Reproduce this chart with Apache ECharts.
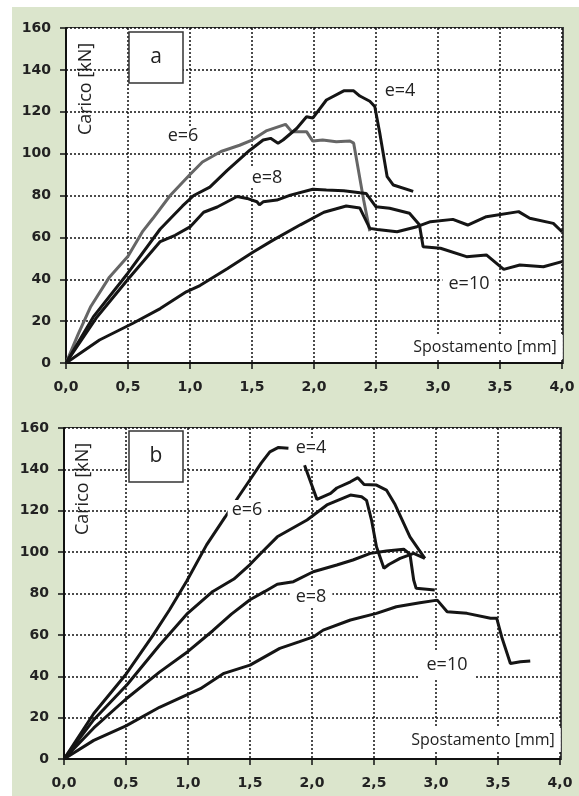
<!DOCTYPE html>
<html>
<head>
<meta charset="utf-8">
<script src="https://cdn.jsdelivr.net/npm/echarts@6/dist/echarts.min.js"></script>
<style>
  html, body { margin: 0; padding: 0; background: #fff; }
  #wrap {
    position: absolute;
    left: 12px;
    top: 7px;
    width: 567px;
    height: 789px;
    background: #dbe5cc;
  }
  .plot {
    position: absolute;
    background: #fff;
    border-top: 1.5px solid #333;
    border-right: 2px solid #444;
  }
  #chart { position: absolute; left: 0; top: 0; width: 567px; height: 789px; }
</style>
</head>
<body>
<div id="wrap">
  <div class="plot" style="left:54px;top:20px;width:496px;height:336px"></div>
  <div class="plot" style="left:52px;top:420px;width:496px;height:332px"></div>
  <div id="chart"></div>
</div>
<script>
// tick values for both panels
const xTicks = [0, 0.5, 1, 1.5, 2, 2.5, 3, 3.5, 4]
const yTicks = [0, 20, 40, 60, 80, 100, 120, 140, 160]

// panel a: [spostamento mm, carico kN]
const aE4 = [[0,0],[0.22,22],[0.5,43],[0.76,64],[0.94,75],[1.03,80],[1.16,84],[1.3,92],[1.48,101.5],[1.59,106.5],[1.65,107.3],[1.71,105],[1.75,106.5],[1.86,112],[1.94,117.6],[1.99,117],[2.1,125.6],[2.24,130],[2.32,130],[2.37,127.5],[2.45,125],[2.49,122.5],[2.53,110],[2.59,89],[2.64,85],[2.8,82]]
const aE6 = [[0,0],[0.1,14],[0.2,27],[0.35,41],[0.5,51],[0.62,63],[0.7,69],[0.84,80],[1.0,90],[1.1,96],[1.25,101],[1.4,104],[1.5,106.5],[1.62,111],[1.77,114],[1.82,110.5],[1.94,110.5],[1.99,106],[2.07,106.5],[2.18,105.7],[2.29,106],[2.32,105],[2.4,78],[2.45,63]]
const aE8 = [[0,0],[0.25,22],[0.5,40],[0.76,58],[0.88,61],[1.0,65],[1.11,72],[1.22,74.5],[1.38,79.5],[1.46,78.6],[1.54,77],[1.56,75.5],[1.59,77],[1.7,77.8],[1.81,80.2],[1.99,83],[2.1,82.6],[2.24,82.3],[2.37,81.3],[2.42,81],[2.5,74.6],[2.61,73.9],[2.77,71.5],[2.85,66],[2.88,55.5],[3.02,54.8],[3.23,50.8],[3.39,51.6],[3.53,44.7],[3.66,46.8],[3.85,46],[4.0,48.4]]
const aE10 = [[0,0],[0.27,11],[0.54,19],[0.76,26],[0.97,34],[1.08,37],[1.3,45],[1.51,53],[1.67,58.7],[1.89,66],[2.08,72],[2.26,75],[2.37,74],[2.45,64.3],[2.51,63.8],[2.67,62.7],[2.83,65.1],[2.94,67.5],[3.12,68.6],[3.24,65.9],[3.39,69.9],[3.65,72.3],[3.74,69.1],[3.93,66.7],[4.0,62.7]]

// panel b
const bE4 = [[0,0],[0.24,22],[0.5,41],[0.72,60],[0.85,72],[0.99,86],[1.15,103.5],[1.3,117],[1.41,127],[1.5,135],[1.59,143],[1.66,148.5],[1.73,150.6],[1.81,150.2],[1.87,null],[1.94,142],[2.04,125.5],[2.15,128.4],[2.2,131],[2.31,134],[2.37,136],[2.42,132.7],[2.52,132.4],[2.6,130],[2.67,123],[2.79,107.4],[2.91,97]]
const bE6 = [[0,0],[0.24,19],[0.51,36],[0.77,55],[0.99,70],[1.2,81],[1.37,87],[1.5,94],[1.58,99],[1.72,107.4],[1.96,115.5],[2.12,122.8],[2.31,127.6],[2.4,126.8],[2.44,125],[2.48,115.5],[2.52,102.6],[2.58,92.2],[2.62,94],[2.71,97],[2.82,99.4],[2.91,97]]
const bE8 = [[0,0],[0.24,15],[0.5,29],[0.77,42],[1.0,52],[1.2,62],[1.35,70],[1.5,77],[1.62,81],[1.72,84.5],[1.85,85.7],[2.01,90.5],[2.2,93.8],[2.33,96.2],[2.47,99.4],[2.6,100.5],[2.74,101.4],[2.79,99],[2.82,86.5],[2.84,82.5],[2.99,81.7]]
const bE10 = [[0,0],[0.24,9],[0.5,16],[0.77,25],[0.99,31],[1.1,34],[1.29,41.4],[1.5,45.4],[1.74,53.5],[1.9,56.7],[2.01,59],[2.09,62.3],[2.31,67.2],[2.52,70.4],[2.68,73.6],[2.87,75.5],[3.01,76.8],[3.09,71.2],[3.25,70.4],[3.44,68],[3.49,68],[3.53,59],[3.6,46.2],[3.68,47],[3.76,47.4]]

const chart = echarts.init(document.getElementById('chart'))

const tickFont = { color: '#222', fontFamily: 'DejaVu Sans', fontWeight: 'bold', fontSize: 14 }
const xMin = xTicks[0], xMax = xTicks[xTicks.length - 1]
const yMin = yTicks[0], yMax = yTicks[yTicks.length - 1]
// heavier dots so they survive the screenshot
const dotted = { color: '#111', width: 1.5, type: [2, 2] }

function xAxisFor(gridIndex) {
  return {
    type: 'value', gridIndex, min: xMin, max: xMax, interval: 0.5,
    axisLine: { show: true, onZero: false, lineStyle: { color: '#111', width: 2 } },
    axisTick: { show: true, length: 6, lineStyle: { color: '#111', width: 1.5 } },
    axisLabel: { ...tickFont, margin: 17, formatter: v => v.toFixed(1).replace('.', ',') },
    splitLine: { show: true, lineStyle: dotted }
  }
}
function yAxisFor(gridIndex) {
  return {
    type: 'value', gridIndex, min: yMin, max: yMax, interval: 20,
    axisLine: { show: true, onZero: false, lineStyle: { color: '#111', width: 2 } },
    axisTick: { show: true, length: 6, lineStyle: { color: '#111', width: 1.5 } },
    axisLabel: { ...tickFont, margin: 15 },
    splitLine: { show: true, lineStyle: dotted }
  }
}
function curve(name, data, idx, color) {
  return {
    name, type: 'line', data, xAxisIndex: idx, yAxisIndex: idx,
    showSymbol: false, symbol: 'none', connectNulls: false,
    lineStyle: { color: color || '#151515', width: 3 },
    z: 3
  }
}

function note(text, x, y, size, pad, rotate) {
  const style = {
    text, fill: '#222', font: size + 'px "Open Sans"',
    align: 'center', verticalAlign: 'middle'
  }
  if (pad) {
    style.backgroundColor = '#fff'
    style.padding = pad
  }
  return { type: 'text', x, y, z: 50, rotation: rotate || 0, style }
}
function box(text, x, y) {
  return {
    type: 'group', z: 50,
    children: [
      { type: 'rect', shape: { x, y, width: 54, height: 51 }, style: { fill: '#fff', stroke: '#333', lineWidth: 1.5 }, z: 50 },
      { type: 'text', x: x + 27, y: y + 25, z: 51, style: { text, fill: '#222', font: '21px "Open Sans"', align: 'center', verticalAlign: 'middle' } }
    ]
  }
}

chart.setOption({
  animation: false,
  grid: [
    { left: 54, top: 21, width: 496, height: 335 },
    { left: 52, top: 421, width: 496, height: 331 }
  ],
  xAxis: [xAxisFor(0), xAxisFor(1)],
  yAxis: [yAxisFor(0), yAxisFor(1)],
  series: [
    curve('e=6', aE6, 0, '#666'),
    curve('e=4', aE4, 0),
    curve('e=8', aE8, 0),
    curve('e=10', aE10, 0),
    curve('e=4', bE4, 1),
    curve('e=6', bE6, 1),
    curve('e=8', bE8, 1),
    curve('e=10', bE10, 1)
  ],
  graphic: [
    box('a', 117, 25),
    note('Carico [kN]', 74, 82, 18, null, Math.PI / 2),
    note('e=4', 388, 84, 18, [1, 4]),
    note('e=6', 171, 129, 18, [1, 4]),
    note('e=8', 255, 171, 18, [1, 4]),
    note('e=10', 457, 277, 18, [3, 6]),
    note('Spostamento [mm]', 473, 340, 16, [4, 6]),

    box('b', 117, 424),
    note('Carico [kN]', 71, 482, 18, null, Math.PI / 2),
    note('e=4', 299, 441, 18, [1, 4]),
    note('e=6', 235, 503, 18, [1, 4]),
    note('e=8', 299, 590, 18, [1, 6]),
    note('e=10', 435, 658, 18, [4, 8]),
    note('Spostamento [mm]', 471, 733, 16, [4, 6])
  ]
})

window.addEventListener('resize', () => chart.resize())
</script>
</body>
</html>
